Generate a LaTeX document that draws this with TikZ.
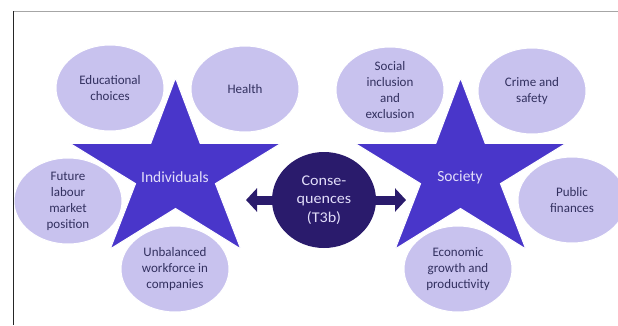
\documentclass[tikz,border=0pt]{standalone}
\usepackage{fontspec}
\setmainfont{Carlito}
\usetikzlibrary{shapes.geometric,arrows.meta}
\definecolor{starblue}{RGB}{73,54,202}
\definecolor{bubblefill}{RGB}{200,194,238}
\definecolor{bubbletext}{RGB}{50,48,95}
\definecolor{consdark}{RGB}{42,27,108}
\definecolor{lighttext}{RGB}{226,222,250}

\begin{document}
\begin{tikzpicture}[x=1pt,y=-1pt,
  bubble/.style={ellipse,fill=bubblefill,draw=white,line width=1pt,
    minimum width=108pt,minimum height=86pt,inner sep=0pt,
    text=bubbletext,align=center,font=\fontsize{13}{16}\selectfont},
  starlbl/.style={text=lighttext,font=\fontsize{15.5}{19}\selectfont},
  starshape/.style={fill=starblue,draw=white,line width=1pt,line join=miter},
  dblarrow/.style={draw=consdark,line width=9pt,
    {Triangle[length=11pt,width=23pt]}-{Triangle[length=11pt,width=23pt]}}]
\useasboundingbox (0,0) rectangle (618,325);

\begin{scope}[shift={(175.5,172.5)}]
\path[starshape] (270:111 and 94.5) \foreach \k in {0,...,4} {-- (306+72*\k:42 and 36) -- (342+72*\k:111 and 94.5)} -- cycle;
\end{scope}
\begin{scope}[shift={(460.5,172.5)}]
\path[starshape] (270:111 and 94.5) \foreach \k in {0,...,4} {-- (306+72*\k:42 and 36) -- (342+72*\k:111 and 94.5)} -- cycle;
\end{scope}

\node[starlbl] (indiv) at (175,177) {Individuals};
\node[starlbl] (soc) at (460,177) {Society};

\node[bubble] (educ) at (110,88) {Educational\\choices};
\node[bubble] (health) at (245,89) {Health};
\node[bubble] (future) at (68,201) {Future\\labour\\market\\position};
\node[bubble] (unbal) at (175,269) {Unbalanced\\workforce in\\companies};

\node[bubble] (social) at (390,90) {Social\\inclusion\\and\\exclusion};
\node[bubble] (crime) at (532,91) {Crime and\\safety};
\node[bubble] (public) at (572,200) {Public\\finances};
\node[bubble] (econ) at (458,269) {Economic\\growth and\\productivity};

\coordinate (tipL) at (246,200);
\coordinate (tipR) at (406,200);
\draw[dblarrow] (tipL) -- (tipR);
\node[circle,fill=consdark,minimum width=100pt,inner sep=0pt,text=lighttext,align=center,
  font=\fontsize{15.5}{19}\selectfont,xscale=1.04,yscale=0.96] (cons) at (324,200) {Conse-\\quences\\(T3b)};

\draw[gray!70,line width=1pt] (13,11) -- (618,11);
\draw[black!85,line width=1pt] (13,11) -- (13,325);
\end{tikzpicture}
\end{document}
